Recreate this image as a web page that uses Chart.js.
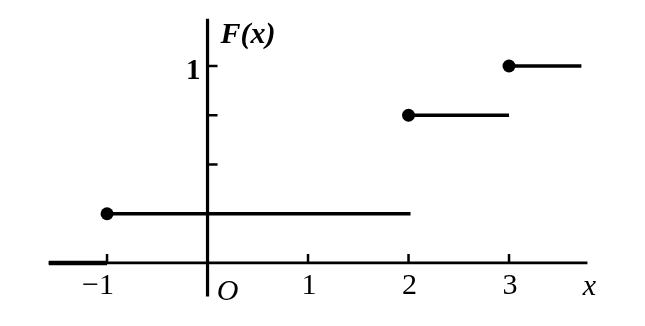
<!DOCTYPE html>
<html>
<head>
<meta charset="utf-8">
<script src="https://cdn.jsdelivr.net/npm/chart.js@4"></script>
<style>
html,body{margin:0;padding:0;background:#fff;}
#wrap{width:645px;height:326px;position:relative;}
.warm{position:absolute;left:-9999px;top:0;font-family:"Liberation Serif";}
</style>
</head>
<body>
<div class="warm">1 <i>x</i> <b><i>F(x)</i></b> <b>1</b></div>
<div id="wrap"><canvas id="c" width="645" height="326"></canvas></div>
<script>
// Step function F(x)
const stepStarts = [-1, 2, 3];
const stepEnds = [2.02, 3.0, 3.72];
const stepValues = [0.25, 0.75, 1];
const zeroSegment = [-1.58, -1];      // F(x)=0 part drawn on the axis
const xAxisRange = [-1.58, 3.78];
const yAxisRange = [-0.17, 1.24];
const xTickValues = [-1, 1, 2, 3];
const xTickLabels = ['\u22121', '1', '2', '3'];
const yTickValues = [0.25, 0.5, 0.75, 1];
const yTickLabels = ['', '', '', '1'];

const SERIF = '"Liberation Serif", "Times New Roman", Times, serif';

const datasets = [];
stepStarts.forEach((s, i) => {
  datasets.push({
    data: [{x: s, y: stepValues[i]}, {x: stepEnds[i], y: stepValues[i]}],
    showLine: true,
    borderColor: '#000',
    borderWidth: 3.5,
    pointRadius: [6.5, 0],
    pointBackgroundColor: '#000',
    pointBorderWidth: 0
  });
});
datasets.push({
  data: [{x: zeroSegment[0], y: 0}, {x: zeroSegment[1], y: 0}],
  showLine: true, borderColor: '#000', borderWidth: 4.5, pointRadius: 0
});

const axesPlugin = {
  id: 'axesPlugin',
  beforeDatasetsDraw(chart) {
    const ctx = chart.ctx, xs = chart.scales.x, ys = chart.scales.y;
    const x0 = xs.getPixelForValue(0), y0 = ys.getPixelForValue(0);
    ctx.save();
    ctx.strokeStyle = '#000';
    ctx.lineCap = 'butt';
    // x axis
    ctx.lineWidth = 2.8;
    ctx.beginPath();
    ctx.moveTo(xs.getPixelForValue(xAxisRange[0]), y0);
    ctx.lineTo(xs.getPixelForValue(xAxisRange[1]), y0);
    ctx.stroke();
    // y axis
    ctx.lineWidth = 3.2;
    ctx.beginPath();
    ctx.moveTo(x0, ys.getPixelForValue(yAxisRange[0]));
    ctx.lineTo(x0, ys.getPixelForValue(yAxisRange[1]));
    ctx.stroke();
    // x ticks (upward)
    ctx.lineWidth = 2.5;
    xTickValues.forEach(v => {
      const px = xs.getPixelForValue(v);
      ctx.beginPath(); ctx.moveTo(px, y0); ctx.lineTo(px, y0 - 9); ctx.stroke();
    });
    // y ticks (rightward)
    yTickValues.forEach(v => {
      const py = ys.getPixelForValue(v);
      ctx.beginPath(); ctx.moveTo(x0, py); ctx.lineTo(x0 + 10, py); ctx.stroke();
    });
    // labels
    ctx.fillStyle = '#000';
    ctx.font = '30px ' + SERIF;
    ctx.textAlign = 'center';
    ctx.textBaseline = 'alphabetic';
    xTickValues.forEach((v, i) => {
      let px = xs.getPixelForValue(v) + 1;
      if (v < 0) px -= 10;
      ctx.fillText(xTickLabels[i], px, y0 + 31);
    });
    ctx.textAlign = 'right';
    yTickValues.forEach((v, i) => {
      if (!yTickLabels[i]) return;
      ctx.font = 'bold 29px ' + SERIF;
      ctx.fillText(yTickLabels[i], x0 - 7, ys.getPixelForValue(v) + 13);
    });
    ctx.textAlign = 'center';
    ctx.font = 'italic 30px ' + SERIF;
    ctx.fillText('O', x0 + 20, y0 + 37);
    ctx.fillText('x', xs.getPixelForValue(3.8), y0 + 32);
    ctx.textAlign = 'left';
    ctx.font = 'bold italic 30px ' + SERIF;
    ctx.fillText('F(x)', x0 + 13, 43);
    ctx.restore();
  }
};

function draw() {
  new Chart(document.getElementById('c'), {
    type: 'scatter',
    data: {datasets},
    options: {
      responsive: false,
      animation: false,
      layout: {padding: 0, autoPadding: false},
      plugins: {legend: {display: false}, tooltip: {enabled: false}},
      scales: {
        x: {type: 'linear', display: false, min: -2.065, max: 4.353},
        y: {type: 'linear', display: false, min: -0.320, max: 1.335}
      }
    },
    plugins: [axesPlugin]
  });
}
const loads = ['30px ', 'italic 30px ', 'bold 29px ', 'bold italic 30px '].map(f =>
  document.fonts.load(f + '"Liberation Serif"', '1xFO').catch(() => null));
Promise.all(loads).then(draw, draw);
</script>
</body>
</html>
